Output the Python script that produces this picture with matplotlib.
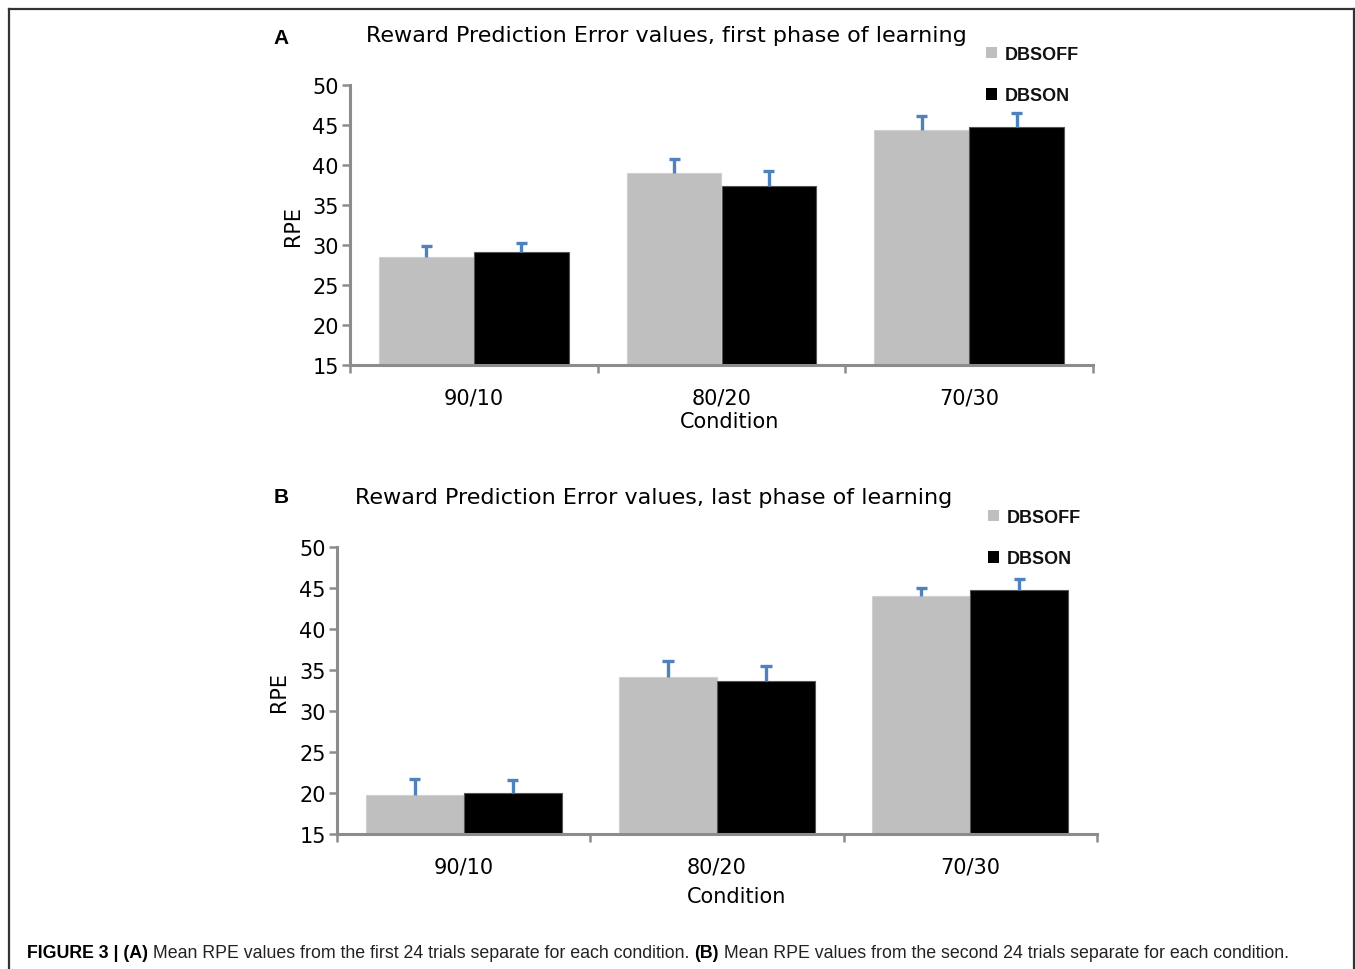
import matplotlib
matplotlib.use("Agg")
import matplotlib.pyplot as plt
import numpy as np

conditions = ["90/10", "80/20", "70/30"]
series = ["DBSOFF", "DBSON"]

a_off = [28.5, 39.0, 44.4]
a_on = [29.1, 37.4, 44.75]
a_off_err = [1.4, 1.75, 1.75]
a_on_err = [1.1, 1.9, 1.75]

b_off = [19.75, 34.15, 44.0]
b_on = [20.0, 33.7, 44.75]
b_off_err = [1.95, 1.95, 1.0]
b_on_err = [1.6, 1.8, 1.35]

yticks = [15, 20, 25, 30, 35, 40, 45, 50]

plt.rcParams['font.family'] = ['DejaVu Sans']
fig = plt.figure(figsize=(13.55, 9.7), dpi=100)

AX_COLOR = '#8c8c8c'
GRAY = '#bfbfbf'
ERR = '#4f81bd'
FS = 15


def upper_err(ax, xs, ys, errs, cap):
    xs = np.asarray(xs)
    tops = np.asarray(ys) + np.asarray(errs)
    ax.vlines(xs, ys, tops, colors=ERR, linewidth=2.4, zorder=3)
    ax.hlines(tops, xs - cap, xs + cap, colors=ERR, linewidth=2.4, zorder=3)


def panel(rect, off, on, off_err, on_err, title, letter, letter_xy, title_xy,
          leg_xy, ylabel_x, xlabel_xy, bw):
    ax = fig.add_axes(rect)
    x = np.arange(len(conditions))
    b1 = ax.bar(x - bw / 2, off, bw, color=GRAY, edgecolor='#d0d0d0',
                linewidth=0.8, label=series[0], zorder=2)
    b2 = ax.bar(x + bw / 2, on, bw, color='black', edgecolor='#555555',
                linewidth=0.8, label=series[1], zorder=2)
    upper_err(ax, x - bw / 2, off, off_err, 0.022)
    upper_err(ax, x + bw / 2, on, on_err, 0.022)
    ax.set_ylim(15, 50)
    ax.set_xlim(-0.5, 2.5)
    ax.set_yticks(yticks)
    ax.set_xticks([-0.5, 0.5, 1.5, 2.5])
    ax.set_xticklabels([])
    ax.set_xticks(x, minor=True)
    ax.set_xticklabels(conditions, minor=True, fontsize=FS)
    ax.tick_params(axis='x', which='minor', length=0, pad=16)
    ax.tick_params(axis='x', which='major', length=6, width=1.8, color=AX_COLOR)
    ax.tick_params(axis='y', length=6, width=1.8, color=AX_COLOR,
                   labelsize=FS, pad=2)
    for s in ['top', 'right']:
        ax.spines[s].set_visible(False)
    for s in ['left', 'bottom']:
        ax.spines[s].set_color(AX_COLOR)
        ax.spines[s].set_linewidth(2.2)
    ax.set_xlabel('Condition', fontsize=FS)
    ax.set_ylabel('RPE', fontsize=FS)
    ax.yaxis.set_label_coords(ylabel_x, 0.5)
    ax.xaxis.set_label_coords(*xlabel_xy)
    fig.text(title_xy[0] / 1355, 1 - title_xy[1] / 970, title, fontsize=16,
             ha='center', va='center')
    fig.text(letter_xy[0] / 1355, 1 - letter_xy[1] / 970, letter,
             fontsize=15, fontweight='bold', ha='center', va='center',
             family=['Liberation Sans'])
    leg = ax.legend(handles=[b1, b2], loc='upper left',
                    bbox_to_anchor=(leg_xy[0] / 1355, 1 - leg_xy[1] / 970),
                    bbox_transform=fig.transFigure,
                    frameon=False, handlelength=0.6, handleheight=0.6,
                    handletextpad=0.45, labelspacing=1.35,
                    prop={'family': 'Liberation Sans', 'weight': 'bold',
                          'size': 13}, borderpad=0, borderaxespad=0)
    for h in leg.legend_handles:
        h.set_edgecolor('none')
    for t in leg.get_texts():
        t.set_color('#111111')
    return ax


rectA = [350 / 1355, 1 - 366 / 970, (1093 - 350) / 1355, (366 - 86) / 970]
rectB = [337 / 1355, 1 - 835 / 970, (1097 - 337) / 1355, (835 - 548) / 970]

panel(rectA, a_off, a_on, a_off_err, a_on_err,
      'Reward Prediction Error values, first phase of learning', 'A',
      (281, 38), (666, 36), (986, 47), -0.063, (0.511, -0.166), 0.383)
panel(rectB, b_off, b_on, b_off_err, b_on_err,
      'Reward Prediction Error values, last phase of learning', 'B',
      (281, 498), (654, 498), (988, 510), -0.063, (0.526, -0.18), 0.387)

# Caption, pieces chained one after another
cap_font = ['Liberation Sans Narrow', 'Liberation Sans']
CY = 1 - 954 / 970
CFS = 12.8
t1 = fig.text(27 / 1355, CY, 'FIGURE 3 | (A)', fontsize=CFS,
              fontweight='bold', ha='left', va='center', family=cap_font)
t2 = fig.text(0, 0, ' Mean RPE values from the first 24 trials separate for each condition. ',
              fontsize=CFS, ha='left', va='center', family=cap_font, color='#222222')
t3 = fig.text(0, 0, '(B)', fontsize=CFS, fontweight='bold', ha='left',
              va='center', family=cap_font)
t4 = fig.text(0, 0, ' Mean RPE values from the second 24 trials separate for each condition.',
              fontsize=CFS, ha='left', va='center', family=cap_font, color='#222222')
fig.canvas.draw()
r = fig.canvas.get_renderer()
prev = t1
for t in (t2, t3, t4):
    bb = prev.get_window_extent(renderer=r)
    x0 = bb.x1 / fig.bbox.width
    t.set_position((x0, CY))
    fig.canvas.draw()
    prev = t

# Frame border (top, left, right)
border_kw = dict(transform=fig.transFigure, color='#333333', linewidth=1.6)
fig.add_artist(plt.Line2D([9 / 1355, 9 / 1355], [0, 1 - 10 / 970], **border_kw))
fig.add_artist(plt.Line2D([9 / 1355, 1354 / 1355], [1 - 10 / 970, 1 - 10 / 970], **border_kw))
fig.add_artist(plt.Line2D([1354 / 1355, 1354 / 1355], [0, 1 - 10 / 970], **border_kw))

fig.savefig('out.png', dpi=100)
